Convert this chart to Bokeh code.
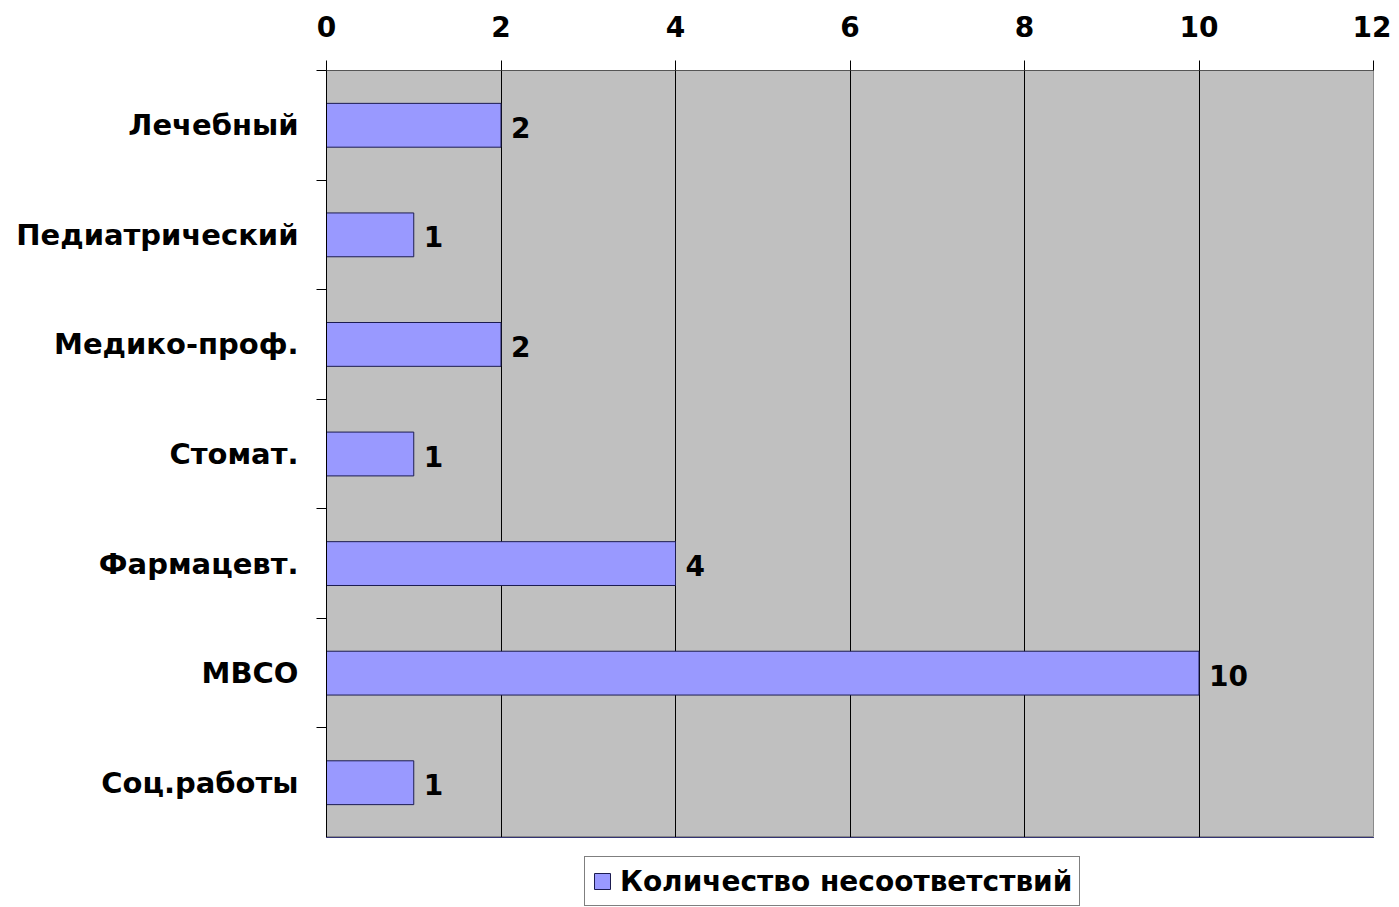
from bokeh.plotting import figure
from bokeh.layouts import column
from bokeh.models import (ColumnDataSource, FixedTicker, LabelSet, Legend,
                          LegendItem, Range1d)
from bokeh.core.properties import value
from bokeh.embed import file_html
from bokeh.resources import INLINE

categories = ["Лечебный", "Педиатрический", "Медико-проф.", "Стомат.",
              "Фармацевт.", "МВСО", "Соц.работы"]
values = [2, 1, 2, 1, 4, 10, 1]
series_name = "Количество несоответствий"
x_ticks = [0, 2, 4, 6, 8, 10, 12]

FONT = "DejaVu Sans"
BAR_FILL = "#9999FF"
BAR_LINE = "#1c1c50"
n = len(categories)
ypos = [n - i - 0.5 for i in range(n)]
src = ColumnDataSource(dict(y=ypos, v=values, cat=categories,
                            lbl=[str(v) for v in values]))

p = figure(frame_width=1047, frame_height=767, output_backend="svg",
           toolbar_location=None,
           x_range=Range1d(0, 12), y_range=Range1d(0, n),
           x_axis_location="above",
           min_border_left=326, min_border_right=18, min_border_top=70,
           min_border_bottom=0)
p.background_fill_color = "#C0C0C0"
p.border_fill_color = "white"
p.outline_line_color = "#8a8a8a"
p.outline_line_width = 1

r = p.hbar(y="y", right="v", left=0, height=0.4, source=src,
           fill_color=BAR_FILL, line_color=BAR_LINE, line_width=1)

# x axis (top)
xa = p.xaxis[0]
xa.ticker = FixedTicker(ticks=x_ticks, minor_ticks=[])
xa.major_label_text_font = FONT
xa.major_label_text_font_style = "bold"
xa.major_label_text_font_size = "28px"
xa.major_label_text_color = "black"
xa.major_tick_out = 10
xa.major_tick_in = 0
xa.major_tick_line_color = "black"
xa.axis_line_color = "#555555"
xa.major_label_standoff = 24

# y axis (left)
ya = p.yaxis[0]
ya.ticker = FixedTicker(ticks=ypos, minor_ticks=list(range(n + 1)))
ya.major_label_overrides = {y: c for y, c in zip(ypos, categories)}
ya.major_label_text_font = FONT
ya.major_label_text_font_style = "bold"
ya.major_label_text_font_size = "29px"
ya.major_label_text_color = "black"
ya.major_tick_out = 0
ya.major_tick_in = 0
ya.minor_tick_out = 10
ya.minor_tick_in = 0
ya.minor_tick_line_color = "black"
ya.axis_line_color = "black"
ya.major_label_standoff = 18

p.xgrid.ticker = FixedTicker(ticks=x_ticks[1:-1])
p.xgrid.grid_line_color = "black"
p.xgrid.grid_line_width = 1
p.ygrid.grid_line_color = None

labels = LabelSet(x="v", y="y", text="lbl", source=src, x_offset=10,
                  y_offset=-2,
                  text_baseline="middle", text_font_size="28px",
                  text_font_style="bold", text_color="black",
                  text_font=value(FONT))
p.add_layout(labels)

# legend strip below the chart
lf = figure(width=1391, height=70, output_backend="svg", toolbar_location=None,
            x_range=Range1d(0, 1), y_range=Range1d(-20, -19), min_border=0)
lf.axis.visible = False
lf.grid.visible = False
lf.outline_line_color = None
lf.background_fill_color = "white"
lf.border_fill_color = "white"
# legend proxy (same bars, outside the visible range of this strip)
lr = lf.hbar(y="y", right="v", left=0, height=0.4, source=src,
             fill_color=BAR_FILL, line_color=BAR_LINE, line_width=1)

legend = Legend(items=[LegendItem(label=series_name, renderers=[lr])],
                orientation="horizontal", location=(258, 1))
legend.label_text_font = FONT
legend.label_text_font_style = "bold"
legend.label_text_font_size = "28px"
legend.label_text_color = "black"
legend.label_height = 34
legend.glyph_width = 20
legend.glyph_height = 20
legend.border_line_color = "black"
legend.border_line_width = 1
legend.padding = 7
legend.margin = 0
legend.label_standoff = 8
lf.add_layout(legend, "center")

layout = column(p, lf, spacing=0)
open("out.html", "w").write(file_html(layout, INLINE))
